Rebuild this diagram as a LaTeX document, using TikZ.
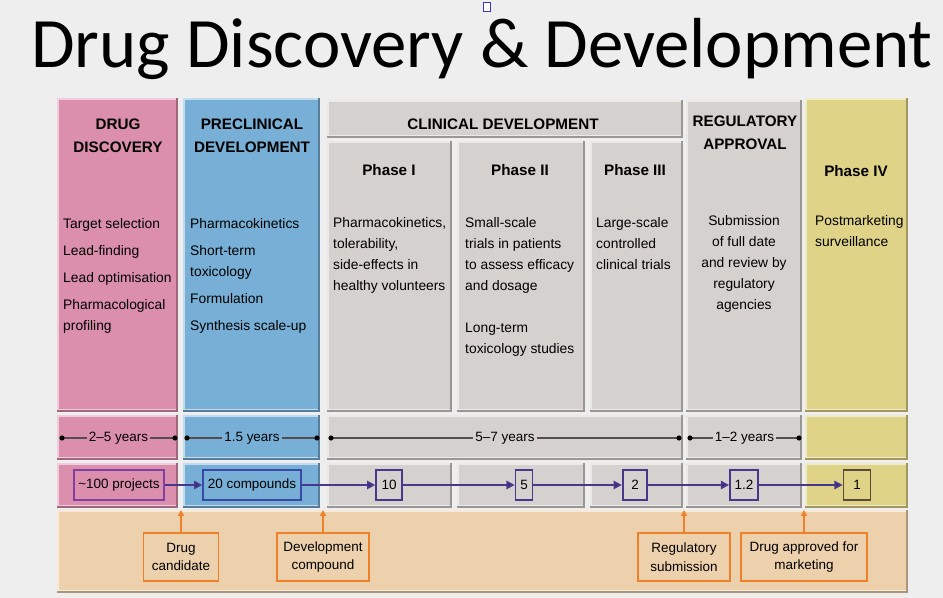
\documentclass[tikz,border=0pt]{standalone}
\usepackage{fontspec}
\setmainfont{Liberation Sans}
\newfontfamily\titlefont{Carlito}
\usetikzlibrary{arrows.meta}

\definecolor{paperGray}{RGB}{238,238,238}
\definecolor{discoveryPink}{RGB}{219,143,173}
\definecolor{preclinicalBlue}{RGB}{120,175,214}
\definecolor{clinicalGray}{RGB}{213,209,206}
\definecolor{phaseYellow}{RGB}{222,211,134}
\definecolor{bandOrange}{RGB}{237,208,172}
\definecolor{markerOrange}{RGB}{238,128,42}
\definecolor{flowNavy}{RGB}{72,56,140}
\definecolor{tipNavy}{RGB}{28,28,110}
\definecolor{projPurple}{RGB}{128,64,160}
\definecolor{compBlue}{RGB}{58,72,168}
\definecolor{finalBrown}{RGB}{90,74,60}
\definecolor{yearGray}{RGB}{85,78,78}

% bevelled slab: x1 y1 (top left) x2 y2 (bottom right) colour
\newcommand{\slab}[5]{%
  \fill[#5!72!black] (#1,#2) rectangle (#3,#4);
  \fill[#5!45!white] (#1,#2) rectangle (#3-2,#4-2);
  \fill[#5] (#1+2,#2+2) rectangle (#3-2,#4-3);
}

\begin{document}
\begin{tikzpicture}[x=0.03cm, y=-0.03cm,
    body/.style={anchor=north west, align=left, inner sep=0pt, font=\fontsize{11.8}{18}\selectfont},
    head/.style={anchor=north, align=center, inner sep=0pt, font=\bfseries\fontsize{13}{19}\selectfont},
    years/.style={text=black, font=\fontsize{11.5}{13}\selectfont, inner sep=2pt},
    yearline/.style={yearGray, line width=1.3pt},
    yeardot/.style={fill=black},
    countbox/.style={draw, line width=1.5pt, inner xsep=4pt, minimum height=26pt, font=\fontsize{11.5}{13}\selectfont},
    flow/.style={flowNavy, line width=1.7pt, -{Triangle[length=7pt, width=7pt, fill=tipNavy]}},
    tag/.style={draw=markerOrange, line width=1.5pt, align=center, minimum height=41pt, font=\fontsize{11.5}{16}\selectfont},
    pointer/.style={markerOrange, line width=1.5pt, -{Triangle[length=5pt, width=5pt]}}]

  \useasboundingbox (0,0) rectangle (943,598);
  \fill[paperGray] (0,0) rectangle (943,598);
  \draw[blue!55!gray, fill=white, line width=0.8pt] (483,2) rectangle (490,11);

  % Titulo
  \node[font=\titlefont\fontsize{60.5}{61}\selectfont, anchor=base] (title) at (482,68) {Drug Discovery \& Development};

  % Columnas
  \slab{57}{98}{178}{412}{discoveryPink}
  \slab{57}{415}{178}{460}{discoveryPink}
  \slab{57}{463}{178}{508}{discoveryPink}

  \slab{183}{98}{320}{412}{preclinicalBlue}
  \slab{183}{415}{320}{460}{preclinicalBlue}
  \slab{183}{463}{320}{508}{preclinicalBlue}

  \slab{327}{100}{683}{138}{clinicalGray}
  \slab{327}{141}{452}{412}{clinicalGray}
  \slab{457}{141}{585}{412}{clinicalGray}
  \slab{590}{141}{683}{412}{clinicalGray}
  \slab{327}{415}{683}{460}{clinicalGray}
  \slab{327}{463}{452}{508}{clinicalGray}
  \slab{457}{463}{585}{508}{clinicalGray}
  \slab{590}{463}{683}{508}{clinicalGray}

  \slab{686}{100}{802}{412}{clinicalGray}
  \slab{686}{415}{802}{460}{clinicalGray}
  \slab{686}{463}{802}{508}{clinicalGray}

  \slab{805}{98}{908}{412}{phaseYellow}
  \slab{805}{415}{908}{460}{phaseYellow}
  \slab{805}{463}{908}{508}{phaseYellow}

  % Banda inferior
  \slab{57}{510}{908}{593}{bandOrange}

  % Encabezados
  \node[head] (hDisc) at (118,119) {DRUG\\DISCOVERY};
  \node[head] (hPre) at (252,119) {PRECLINICAL\\DEVELOPMENT};
  \node[head] (hClin) at (503,119) {CLINICAL DEVELOPMENT};
  \node[head] (hReg) at (745,116) {REGULATORY\\APPROVAL};
  \node[head] (hOne) at (389,164) {Phase I};
  \node[head] (hTwo) at (520,164) {Phase II};
  \node[head] (hThree) at (635,164) {Phase III};
  \node[head] (hFour) at (856,165) {Phase IV};

  % Contenido de cada fase
  \node[body] (bDisc) at (63,218) {Target selection\\[5pt] Lead-finding\\[5pt] Lead optimisation\\[5pt] Pharmacological\\ profiling};
  \node[body] (bPre) at (190,218) {Pharmacokinetics\\[5pt] Short-term\\ toxicology\\[5pt] Formulation\\[5pt] Synthesis scale-up};
  \node[body] (bOne) at (333,217) {Pharmacokinetics,\\ tolerability,\\ side-effects in\\ healthy volunteers};
  \node[body] (bTwo) at (465,217) {Small-scale\\ trials in patients\\ to assess efficacy\\ and dosage\\[18pt] Long-term\\ toxicology studies};
  \node[body] (bThree) at (596,217) {Large-scale\\ controlled\\ clinical trials};
  \node[body, anchor=north, align=center] (bReg) at (744,215) {Submission\\ of full date\\ and review by\\ regulatory\\ agencies};
  \node[body] (bFour) at (815,215) {Postmarketing\\ surveillance};

  % Duracion
  \coordinate (yDiscL) at (62,438);  \coordinate (yDiscR) at (175,438);
  \coordinate (yPreL) at (187,438);  \coordinate (yPreR) at (317,438);
  \coordinate (yClinL) at (331,438); \coordinate (yClinR) at (679,438);
  \coordinate (yRegL) at (690,438);  \coordinate (yRegR) at (799,438);
  \draw[yearline] (yDiscL) -- (yDiscR) node[midway, years, fill=discoveryPink] (tDisc) {2--5 years};
  \draw[yearline] (yPreL) -- (yPreR) node[midway, years, fill=preclinicalBlue] (tPre) {1.5 years};
  \draw[yearline] (yClinL) -- (yClinR) node[midway, years, fill=clinicalGray] (tClin) {5--7 years};
  \draw[yearline] (yRegL) -- (yRegR) node[midway, years, fill=clinicalGray] (tReg) {1--2 years};
  \foreach \p in {yDiscL,yDiscR,yPreL,yPreR,yClinL,yClinR,yRegL,yRegR}
    \fill[yeardot] (\p) circle (2.6);

  % Numero de candidatos
  \node[countbox, draw=projPurple] (nProj) at (119,485) {\textasciitilde100 projects};
  \node[countbox, draw=compBlue] (nComp) at (252,485) {20 compounds};
  \node[countbox, draw=flowNavy, minimum width=22pt] (nTen) at (389,485) {10};
  \node[countbox, draw=flowNavy] (nFive) at (524,485) {5};
  \node[countbox, draw=flowNavy, minimum width=21pt] (nTwo) at (635,485) {2};
  \node[countbox, draw=flowNavy, minimum width=23pt] (nOneTwo) at (744,485) {1.2};
  \node[countbox, draw=finalBrown, minimum width=23pt] (nOne) at (857,485) {1};
  \draw[flow] (nProj) -- (nComp);
  \draw[flow] (nComp) -- (nTen);
  \draw[flow] (nTen) -- (nFive);
  \draw[flow] (nFive) -- (nTwo);
  \draw[flow] (nTwo) -- (nOneTwo);
  \draw[flow] (nOneTwo) -- (nOne);

  % Hitos
  \node[tag, minimum width=64pt] (tCand) at (181,557) {Drug\\candidate};
  \node[tag, minimum width=79pt] (tDev) at (323,557) {Development\\compound};
  \node[tag, minimum width=78pt] (tSub) at (684,557) {Regulatory\\submission};
  \node[tag, minimum width=108pt] (tAppr) at (804,557) {Drug approved for\\marketing};
  \coordinate (pCand) at (181,510);
  \coordinate (pDev) at (323,510);
  \coordinate (pSub) at (684,510);
  \coordinate (pAppr) at (804,510);
  \draw[pointer] (tCand) -- (pCand);
  \draw[pointer] (tDev) -- (pDev);
  \draw[pointer] (tSub) -- (pSub);
  \draw[pointer] (tAppr) -- (pAppr);
\end{tikzpicture}
\end{document}
